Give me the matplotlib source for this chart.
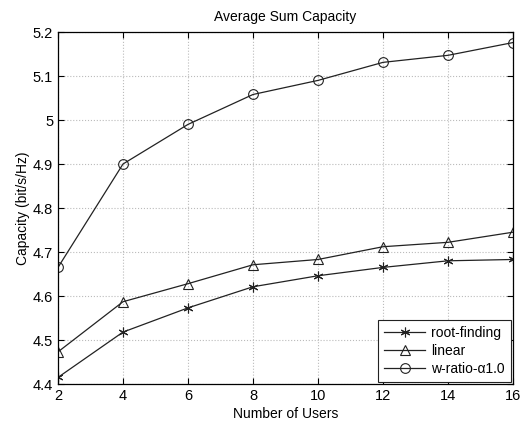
import matplotlib
matplotlib.use("Agg")
import matplotlib.pyplot as plt

plt.rcParams["font.family"] = ["Liberation Sans", "DejaVu Sans"]

users = [2, 4, 6, 8, 10, 12, 14, 16]
root_finding = [4.415, 4.518, 4.573, 4.621, 4.646, 4.665, 4.680, 4.683]
linear = [4.473, 4.587, 4.628, 4.671, 4.683, 4.712, 4.722, 4.745]
w_ratio = [4.665, 4.900, 4.990, 5.058, 5.090, 5.131, 5.147, 5.176]

fig = plt.figure(figsize=(5.26, 4.23), dpi=100)
ax = fig.add_axes([58 / 526, 39 / 423, 455 / 526, 352 / 423])

line_kw = dict(color="#222222", linewidth=0.9, markersize=7,
               markerfacecolor="none", markeredgecolor="#222222", markeredgewidth=0.8)
ax.plot(users, root_finding, marker=(6, 2, 0), label="root-finding", **line_kw)
ax.plot(users, linear, marker="^", label="linear", **line_kw)
ax.plot(users, w_ratio, marker="o", label="w-ratio-\u03b11.0", **line_kw)

ax.set_xlim(2, 16)
ax.set_ylim(4.4, 5.2)
ax.set_xticks(users)
ax.set_yticks([4.4, 4.5, 4.6, 4.7, 4.8, 4.9, 5.0, 5.1, 5.2])
ax.set_yticklabels(["4.4", "4.5", "4.6", "4.7", "4.8", "4.9", "5", "5.1", "5.2"])
ax.tick_params(direction="in", length=4, labelsize=10.5, top=True, right=True, width=0.8)
ax.grid(True, linestyle=":", color="#bbbbbb", linewidth=0.8)
for s in ax.spines.values():
    s.set_linewidth(0.9)

ax.set_title("Average Sum Capacity", fontsize=10, pad=8)
ax.set_xlabel("Number of Users", fontsize=10, labelpad=3)
ax.set_ylabel("Capacity (bit/s/Hz)", fontsize=10, labelpad=2)

leg = ax.legend(loc="lower right", fontsize=10, fancybox=False, framealpha=1,
                edgecolor="#222222", handlelength=3.0, borderaxespad=0.15,
                handletextpad=0.4, labelspacing=0.28, borderpad=0.45)
leg.get_frame().set_linewidth(0.8)

fig.savefig("out.png", dpi=100)
